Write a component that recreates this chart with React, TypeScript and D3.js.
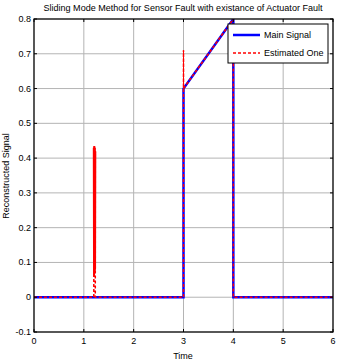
import React from "react";
import * as d3 from "d3";

const W = 339, H = 363;
const M = { left: 34, right: 333, top: 19, bottom: 332 };

const xTicks = [0, 1, 2, 3, 4, 5, 6];
const yTicks = [-0.1, 0, 0.1, 0.2, 0.3, 0.4, 0.5, 0.6, 0.7, 0.8];

const mainT = [0, 3, 3, 4, 4, 6];
const mainV = [0, 0, 0.6, 0.8, 0, 0];

const estT = [0, 1.2, 1.2, 1.205, 1.21, 1.215, 1.22, 1.225, 1.23, 1.23, 3, 3, 3, 4, 4, 6];
const estV = [0, 0, 0.43, 0.06, 0.435, 0.07, 0.43, 0.08, 0.42, 0, 0, 0.71, 0.6, 0.8, 0, 0];

const title = "Sliding Mode Method for Sensor Fault with existance of Actuator Fault";
const xLabel = "Time";
const yLabel = "Reconstructed Signal";
const legendLabels = ["Main Signal", "Estimated One"];

export default function App() {
  const x = d3.scaleLinear().domain([0, 6]).range([M.left, M.right]);
  const y = d3.scaleLinear().domain([-0.1, 0.8]).range([M.bottom, M.top]);
  const line = d3.line<[number, number]>().x(d => x(d[0])).y(d => y(d[1]));
  const mainPts = mainT.map((t, i) => [t, mainV[i]] as [number, number]);
  const estPts = estT.map((t, i) => [t, estV[i]] as [number, number]);
  const spike1 = estPts.slice(2, 9);
  const spike2 = estPts.slice(11, 13);
  const font = "Liberation Sans, Arial, sans-serif";
  const lx = 228, ly = 24, lw = 100, lh = 39;
  return (
    <svg width={W} height={H} style={{ position: "absolute", left: 0, top: 0, background: "#fff" }} fontFamily={font}>
      <defs>
        <clipPath id="pc"><rect x={M.left} y={M.top} width={M.right - M.left} height={M.bottom - M.top} /></clipPath>
      </defs>
      <rect x={0} y={0} width={W} height={H} fill="#fff" />
      {xTicks.map(t => (
        <line key={"gx" + t} x1={x(t)} x2={x(t)} y1={M.top} y2={M.bottom} stroke="#b4b4b4" strokeWidth={1} />
      ))}
      {yTicks.map(t => (
        <line key={"gy" + t} x1={M.left} x2={M.right} y1={y(t)} y2={y(t)} stroke="#b4b4b4" strokeWidth={1} />
      ))}
      <g clipPath="url(#pc)">
        <path d={line(mainPts)!} fill="none" stroke="#0000ff" strokeWidth={2.5} />
        <path d={line(estPts)!} fill="none" stroke="#ff0000" strokeWidth={1.5} strokeDasharray="3,2" />
        <path d={line(spike1)!} fill="none" stroke="#ff0000" strokeWidth={2} />
        <path d={line(spike2)!} fill="none" stroke="#ff0000" strokeWidth={1} />
      </g>
      <rect x={M.left} y={M.top} width={M.right - M.left} height={M.bottom - M.top} fill="none" stroke="#000" strokeWidth={1.2} />
      {xTicks.map(t => (
        <g key={"tx" + t}>
          <line x1={x(t)} x2={x(t)} y1={M.bottom} y2={M.bottom - 3} stroke="#000" />
          <line x1={x(t)} x2={x(t)} y1={M.top} y2={M.top + 3} stroke="#000" />
          <text x={x(t)} y={M.bottom + 12} fontSize={9} textAnchor="middle">{t}</text>
        </g>
      ))}
      {yTicks.map(t => (
        <g key={"ty" + t}>
          <line x1={M.left} x2={M.left + 3} y1={y(t)} y2={y(t)} stroke="#000" />
          <line x1={M.right} x2={M.right - 3} y1={y(t)} y2={y(t)} stroke="#000" />
          <text x={M.left - 3} y={y(t) + 3} fontSize={9} textAnchor="end">{t === 0 ? "0" : t.toFixed(1)}</text>
        </g>
      ))}
      <text x={183} y={11} fontSize={9} textAnchor="middle" textLength={279} lengthAdjust="spacingAndGlyphs">{title}</text>
      <text x={183} y={359} fontSize={9} textAnchor="middle">{xLabel}</text>
      <text transform={`translate(9,176) rotate(-90)`} fontSize={9} textAnchor="middle">{yLabel}</text>
      <rect x={lx} y={ly} width={lw} height={lh} fill="#fff" stroke="#000" strokeWidth={1} />
      <line x1={lx + 5} x2={lx + 32} y1={ly + 11} y2={ly + 11} stroke="#0000ff" strokeWidth={2.5} />
      <line x1={lx + 5} x2={lx + 32} y1={ly + 29} y2={ly + 29} stroke="#ff0000" strokeWidth={1.5} strokeDasharray="3,2" />
      <text x={lx + 36} y={ly + 14} fontSize={9}>{legendLabels[0]}</text>
      <text x={lx + 36} y={ly + 32} fontSize={9}>{legendLabels[1]}</text>
    </svg>
  );
}
